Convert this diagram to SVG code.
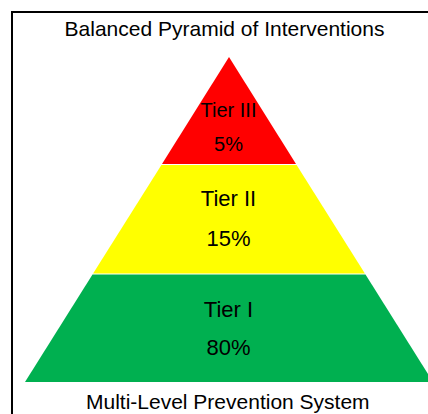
<svg xmlns="http://www.w3.org/2000/svg" width="428" height="414" viewBox="0 0 428 414">
<style>
.t{font-family:"Liberation Sans",Arial,sans-serif;fill:#000;text-anchor:middle}
.cap{font-size:21px}
.lbl{font-size:22px}
.frame{fill:none;stroke:#000;stroke-width:2}
</style>
<rect width="428" height="414" fill="#fff"/>
<path class="frame" d="M12,415 V12 H429"/>
<text class="t cap" x="224.5" y="36">Balanced Pyramid of Interventions</text>
<g id="tier3">
<polygon points="229,57 296,164 162,164" fill="#FF0000"/>
<text class="t" style="font-size:20px" x="228.5" y="116.5">Tier III</text>
<text class="t" style="font-size:20px" x="228.5" y="151">5%</text>
</g>
<g id="tier2">
<polygon points="161.4,165 296.6,165 364.9,273.5 93.1,273.5" fill="#FFFF00"/>
<text class="t lbl" x="228.5" y="205.5">Tier II</text>
<text class="t lbl" x="228.5" y="245.5">15%</text>
</g>
<g id="tier1">
<polygon points="92.5,274.5 365.5,274.5 433,382 25,382" fill="#00B050"/>
<text class="t lbl" x="228.5" y="316.5">Tier I</text>
<text class="t lbl" x="228.5" y="355">80%</text>
</g>
<text class="t cap" x="227.8" y="408.5">Multi-Level Prevention System</text>
</svg>
